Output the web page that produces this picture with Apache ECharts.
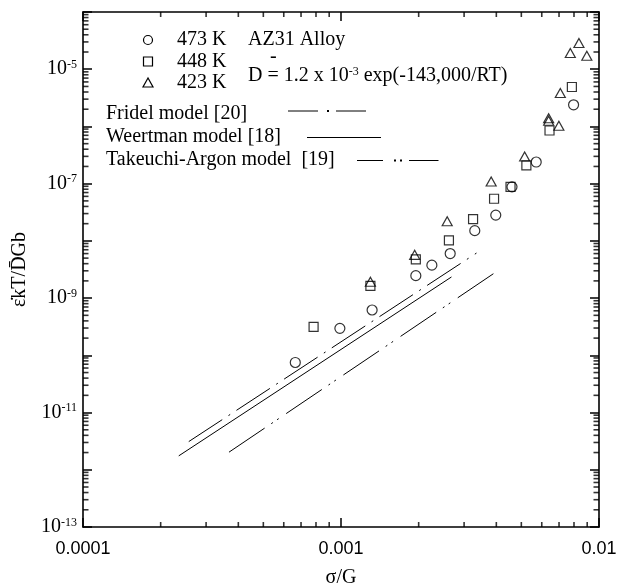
<!DOCTYPE html>
<html>
<head>
<meta charset="utf-8">
<script src="https://cdn.jsdelivr.net/npm/echarts@6/dist/echarts.min.js"></script>
<style>
html,body{margin:0;padding:0;background:#fff}
#chart{width:619px;height:586px}
</style>
</head>
<body>
<div id="chart"></div>
<script>
// measured data, sigma/G vs strain rate term
const x473 = [6.65e-4, 9.9e-4, 1.32e-3, 1.95e-3, 2.25e-3, 2.65e-3, 3.30e-3, 3.98e-3, 4.6e-3, 5.71e-3, 7.97e-3];
const y473 = [7.5e-11, 2.96e-10, 6.2e-10, 2.47e-9, 3.77e-9, 6.0e-9, 1.51e-8, 2.82e-8, 8.8e-8, 2.39e-7, 2.39e-6];
const x448 = [7.83e-4, 1.30e-3, 1.95e-3, 2.62e-3, 3.25e-3, 3.92e-3, 4.54e-3, 5.23e-3, 6.43e-3, 7.85e-3];
const y448 = [3.15e-10, 1.64e-9, 4.77e-9, 1.02e-8, 2.40e-8, 5.45e-8, 8.8e-8, 2.08e-7, 8.5e-7, 4.89e-6];
const x423 = [1.30e-3, 1.93e-3, 2.58e-3, 3.82e-3, 5.15e-3, 6.38e-3, 6.38e-3, 6.99e-3, 7.08e-3, 7.74e-3, 8.36e-3, 8.97e-3];
const y423 = [1.93e-9, 5.7e-9, 2.2e-8, 1.09e-7, 2.99e-7, 1.39e-6, 1.26e-6, 1.03e-6, 3.84e-6, 1.92e-5, 2.87e-5, 1.72e-5];

// model lines (end points)
const fridelX = [2.57e-4, 3.35e-3];
const fridelY = [3.11e-12, 6.12e-9];
const weertmanX = [2.35e-4, 2.68e-3];
const weertmanY = [1.75e-12, 2.34e-9];
const takeuchiX = [3.68e-4, 4.05e-3];
const takeuchiY = [2.03e-12, 3.0e-9];

// ticks
const xLabelVals = [1e-4, 1e-3, 1e-2];
const xLabelText = {'-4': '0.0001', '-3': '0.001', '-2': '0.01'};
const yLabelVals = [1e-13, 1e-11, 1e-9, 1e-7, 1e-5];
const xDecades = [1e-4, 1e-3];
const yDecades = [1e-13, 1e-12, 1e-11, 1e-10, 1e-9, 1e-8, 1e-7, 1e-6, 1e-5];

const xMinor = [];
xDecades.forEach(d => { for (let k = 2; k <= 9; k++) xMinor.push(k * d); });
const yMinor = [];
yDecades.forEach(d => { for (let k = 2; k <= 9; k++) yMinor.push(k * d); });

const zip = (a, b) => a.map((v, i) => [v, b[i]]);

const serif = '"Liberation Serif", "Times New Roman", serif';
const black = '#000';
const X0 = 1e-4, X1 = 1e-2, Y0 = 1e-13, Y1 = 1e-4;

const chart = echarts.init(document.getElementById('chart'), null, {renderer: 'canvas'});

function xAx(pos, labels) {
  return {
    type: 'log', logBase: 10, min: X0, max: X1, position: pos,
    axisLine: {show: true, lineStyle: {color: black, width: 1.6}},
    axisTick: {show: true, inside: true, length: 9, lineStyle: {color: black, width: 1.5}},
    axisLabel: labels ? {
      show: true, customValues: xLabelVals, margin: 13, color: black,
      fontFamily: '"Liberation Sans", Arial, sans-serif', fontSize: 18,
      formatter: v => xLabelText[Math.round(Math.log10(v))]
    } : {show: false},
    splitLine: {show: false}
  };
}
function yAx(pos, labels) {
  return {
    type: 'log', logBase: 10, min: Y0, max: Y1, position: pos,
    axisLine: {show: true, lineStyle: {color: black, width: 1.6}},
    axisTick: {show: true, inside: true, length: 9, lineStyle: {color: black, width: 1.5}},
    axisLabel: labels ? {
      show: true, customValues: yLabelVals, margin: 6, color: black,
      formatter: v => '{b|10}{s|-' + Math.abs(Math.round(Math.log10(v))) + '}',
      rich: {
        b: {fontFamily: serif, fontSize: 20, color: black},
        s: {fontFamily: serif, fontSize: 12, color: black, padding: [0, 0, 9, 0]}
      }
    } : {show: false},
    splitLine: {show: false}
  };
}

const xAxes = [xAx('bottom', true), xAx('top', false)];
Object.assign(xAxes[0], {
  name: 'σ/G', nameLocation: 'middle', nameGap: 41,
  nameTextStyle: {fontFamily: serif, fontSize: 20, color: black}
});
const yAxes = [yAx('left', true), yAx('right', false)];
Object.assign(yAxes[0], {
  name: 'ε\u0307kT/D\u0304Gb', nameLocation: 'middle', nameGap: 52, nameRotate: 90,
  nameTextStyle: {fontFamily: serif, fontSize: 20, color: black}
});

const pointStyle = {color: 'rgba(0,0,0,0)', borderColor: black, borderWidth: 1.2};

function lineSeries(name, xs, ys, dash) {
  return {
    name: name, type: 'line', data: zip(xs, ys), symbol: 'none', silent: true,
    lineStyle: {color: black, width: 1, type: dash}
  };
}

// minor ticks: thin rect symbols placed on the frame through the axis scales
function tickSeries(data, size, offset) {
  return {
    type: 'scatter', silent: true, clip: false, data: data,
    symbol: 'rect', symbolSize: size, symbolOffset: offset,
    itemStyle: {color: black}, z: 1
  };
}
const tickSeriesList = [
  tickSeries(xMinor.map(v => [v, Y0]), [1.6, 5], [0, -2.5]),
  tickSeries(xMinor.map(v => [v, Y1]), [1.6, 5], [0, 2.5]),
  tickSeries(yMinor.map(v => [X0, v]), [5.5, 1.6], [2.75, 0]),
  tickSeries(yMinor.map(v => [X1, v]), [5.5, 1.6], [-2.75, 0])
];

// legend decorations
const txt = (s, x, y) => ({
  type: 'text', x: x, y: y, silent: true,
  style: {text: s, font: '20px ' + serif, fill: black, verticalAlign: 'middle'}
});
const seg = (x1, x2, y) => ({
  type: 'line', silent: true, shape: {x1: x1, y1: y, x2: x2, y2: y},
  style: {stroke: black, lineWidth: 1}
});
const dot = (x, y) => ({
  type: 'rect', silent: true, shape: {x: x - 1, y: y - 1, width: 2, height: 2},
  style: {fill: black}
});
const mk = {fill: 'none', stroke: black, lineWidth: 1.2};

const graphic = [
  {type: 'circle', silent: true, shape: {cx: 148, cy: 40, r: 4.5}, style: mk},
  {type: 'rect', silent: true, shape: {x: 143.5, y: 57, width: 9, height: 9}, style: mk},
  {type: 'polygon', silent: true, shape: {points: [[148, 78], [143, 87], [153, 87]]}, style: mk},
  txt('473 K', 177, 40),
  txt('448 K', 177, 61.5),
  txt('423 K', 177, 82.5),
  txt('AZ31 Alloy', 248, 40),
  txt('-', 270, 57),
  {
    type: 'text', x: 248, y: 76, silent: true,
    style: {
      text: '{n|D = 1.2 x 10}{s|-3}{n| exp(-143,000/RT)}', verticalAlign: 'middle',
      rich: {
        n: {font: '20px ' + serif, fill: black},
        s: {font: '12px ' + serif, fill: black, padding: [0, 0, 9, 0]}
      }
    }
  },
  txt('Fridel model [20]', 106, 114),
  txt('Weertman model [18]', 106, 137),
  txt('Takeuchi-Argon model  [19]', 106, 160),
  seg(288, 318, 111), dot(328, 111), seg(336, 366, 111),
  seg(307, 381, 137.5),
  seg(357, 383, 160.5), dot(395, 160.5), dot(401, 160.5), seg(409, 438.5, 160.5)
];

const option = {
  backgroundColor: '#fff',
  animation: false,
  grid: {left: 83, right: 20, top: 12, bottom: 59, containLabel: false, outerBoundsMode: 'none'},
  xAxis: xAxes,
  yAxis: yAxes,
  graphic: graphic,
  series: tickSeriesList.concat([
    {name: '473 K', type: 'scatter', symbol: 'circle', symbolSize: 10, data: zip(x473, y473), itemStyle: pointStyle},
    {name: '448 K', type: 'scatter', symbol: 'rect', symbolSize: 9, data: zip(x448, y448), itemStyle: pointStyle},
    {name: '423 K', type: 'scatter', symbol: 'triangle', symbolSize: [10, 9], data: zip(x423, y423), itemStyle: pointStyle},
    lineSeries('Fridel', fridelX, fridelY, [40, 7.5, 2, 7.5]),
    lineSeries('Weertman', weertmanX, weertmanY, 'solid'),
    lineSeries('Takeuchi-Argon', takeuchiX, takeuchiY, [43, 8, 2, 5, 2, 9])
  ])
};
chart.setOption(option);
</script>
</body>
</html>
